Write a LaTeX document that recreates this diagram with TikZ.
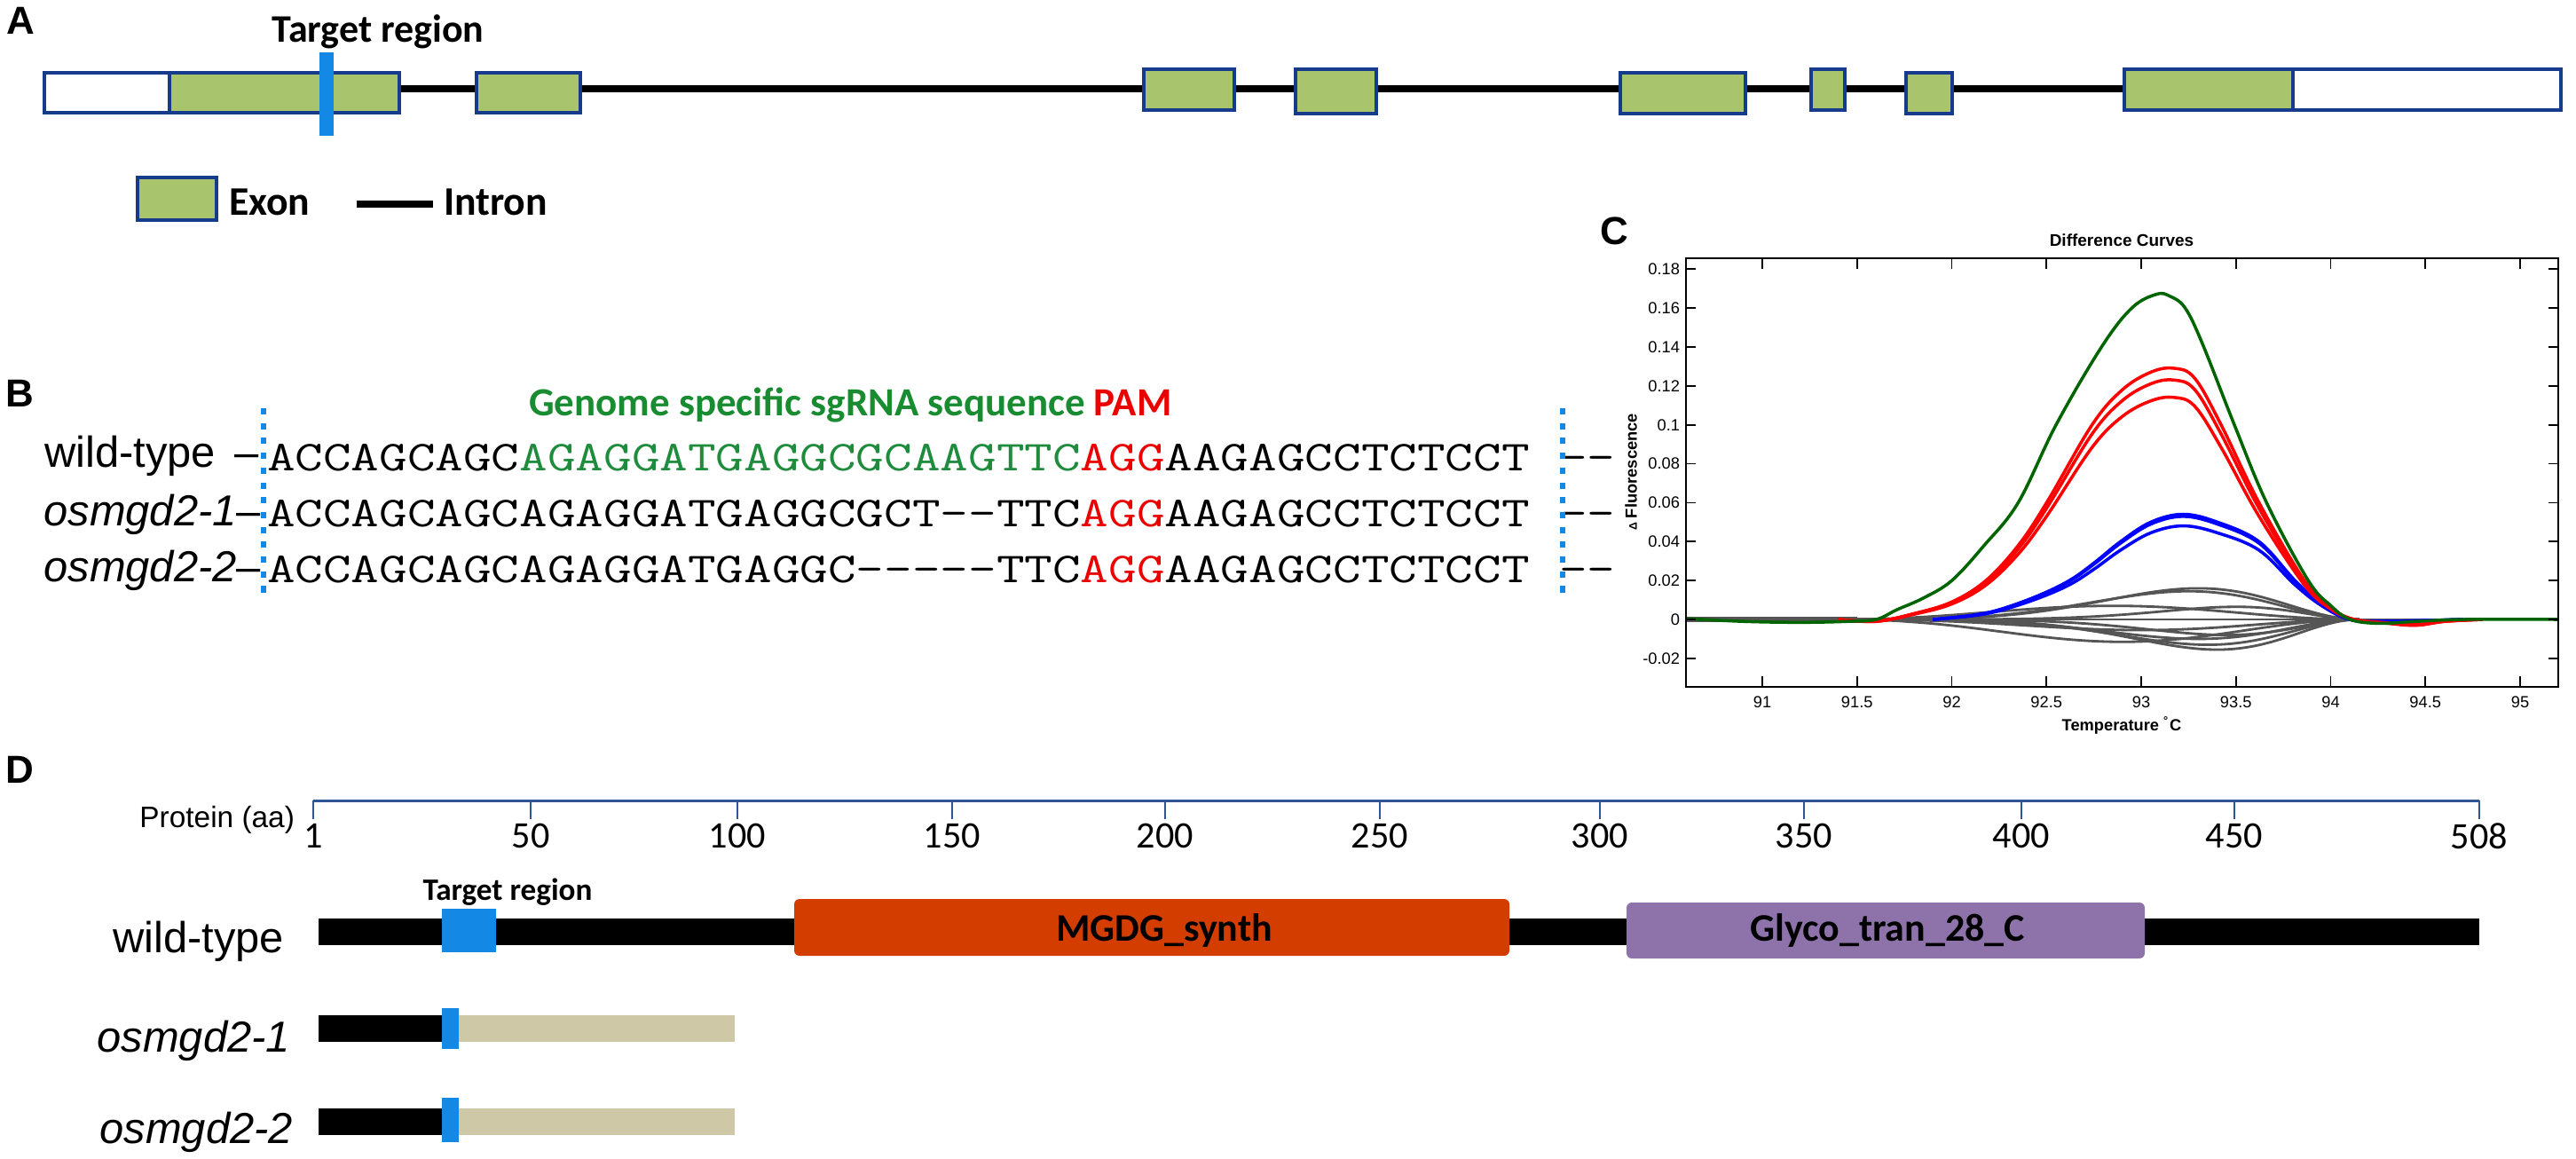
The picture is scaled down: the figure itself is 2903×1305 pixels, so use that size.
\documentclass[tikz,border=0pt]{standalone}
\usepackage{fontspec}
\usepackage{graphicx}
\setmainfont{Liberation Sans}
\newfontfamily\carl{Carlito}
\newfontfamily\arl{Liberation Sans}
\newcommand\fsz[1]{\fontsize{#1}{#1}\selectfont}
\definecolor{exongreen}{RGB}{168,197,110}
\definecolor{exonborder}{RGB}{22,58,140}
\definecolor{tblue}{RGB}{20,136,229}
\definecolor{sggreen}{RGB}{25,140,50}
\definecolor{seqgreen}{RGB}{30,140,60}
\definecolor{pamred}{RGB}{235,0,0}
\definecolor{axisblue}{RGB}{47,85,151}
\definecolor{mgdgcol}{RGB}{211,61,0}
\definecolor{glycocol}{RGB}{142,115,170}
\definecolor{beigecol}{RGB}{206,200,166}
\definecolor{cgreen}{RGB}{0,100,0}
\definecolor{cred}{RGB}{255,0,0}
\definecolor{cblue}{RGB}{0,0,255}
\definecolor{cgray}{RGB}{85,85,85}
\begin{document}
\begin{tikzpicture}[x=0.01cm,y=-0.01cm,
  every node/.style={inner sep=0pt,outer sep=0pt},
  panellabel/.style={anchor=base west,font=\arl\bfseries\fsz{12.5pt}},
  exonbox/.style={draw=exonborder,fill=exongreen,line width=1pt},
  utrbox/.style={draw=exonborder,fill=white,line width=1pt},
  intronline/.style={draw=black,line width=2.3pt},
  carlb/.style={font=\carl\bfseries\fsz{13pt}},
  rowlab/.style={anchor=base east,font=\arl\fsz{13.9pt}},
  seqtext/.style={anchor=base west,font=\ttfamily\fsz{13.66pt}},
  dotline/.style={draw=tblue,line width=1.85pt,dash pattern=on 2pt off 2.75pt},
  plotframe/.style={draw=black,line width=0.5pt},
  ticklab/.style={font=\arl\fsz{5.2pt}},
  plotlab/.style={font=\arl\bfseries\fsz{5.2pt}},
  gcurve/.style={draw=cgray,line width=0.8pt},
  colcurve/.style={line width=1pt},
  domainbox/.style={rounded corners=1.7pt,draw=none},
  dlab/.style={font=\carl\fsz{12pt}},
  domlab/.style={anchor=base,font=\carl\bfseries\fsz{12.5pt}}
]
\fill[white] (0,0) rectangle (2903,1305);
\useasboundingbox (0,0) rectangle (2903,1305);

% ---------------- Panel A ----------------
\node[panellabel] (labA) at (8,38) {A};
\draw[intronline] (450,100) -- (2393,100);
\draw[utrbox] (50,82) rectangle (191,127);
\draw[exonbox] (191,82) rectangle (450,127);
\draw[exonbox] (537,82) rectangle (654,127);
\draw[exonbox] (1289,78) rectangle (1391,124);
\draw[exonbox] (1460,78) rectangle (1551,128);
\draw[exonbox] (1826,82) rectangle (1967,128);
\draw[exonbox] (2041,78) rectangle (2079,124);
\draw[exonbox] (2148,82) rectangle (2200,128);
\draw[exonbox] (2394,78) rectangle (2584,124);
\draw[utrbox] (2584,78) rectangle (2886,124);
\fill[tblue] (360,59) rectangle (376,153);
\node[carlb,font=\carl\bfseries\fsz{12.5pt},anchor=base] (targetA) at (426,47) {Target region};
\draw[exonbox] (155,200) rectangle (244,248);
\node[carlb,anchor=base west] (exonlab) at (258,242) {Exon};
\draw[intronline] (402,230) -- (488,230);
\node[carlb,anchor=base west] (intronlab) at (500,242) {Intron};

% ---------------- Panel B ----------------
\node[panellabel] (labB) at (6,458) {B};
\node[anchor=base west,font=\carl\bfseries\fsz{12.8pt}] (hdr) at (596,468)
  {{\color{sggreen}Genome specific sgRNA sequence} {\color{pamred}PAM}};
\node[rowlab] (wtB) at (292,526) {wild-type \,–};
\node[rowlab] (m1B) at (294,592) {\textit{osmgd2-1}–};
\node[rowlab] (m2B) at (294,655) {\textit{osmgd2-2}–};
\node[seqtext] (seqwt) at (301,530) {\scalebox{1.278}[1]{ACCAGCAGC\textcolor{seqgreen}{AGAGGATGAGGCGCAAGTTC}\textcolor{pamred}{AGG}AAGAGCCTCTCCT}};
\node[seqtext] (seqm1) at (301,593) {\scalebox{1.278}[1]{ACCAGCAGCAGAGGATGAGGCGCT--TTC\textcolor{pamred}{AGG}AAGAGCCTCTCCT}};
\node[seqtext] (seqm2) at (301,656) {\scalebox{1.278}[1]{ACCAGCAGCAGAGGATGAGGC-----TTC\textcolor{pamred}{AGG}AAGAGCCTCTCCT}};
\node[seqtext] (tailwt) at (1757,530) {\scalebox{1.278}[1]{--}};
\node[seqtext] (tailm1) at (1757,593) {\scalebox{1.278}[1]{--}};
\node[seqtext] (tailm2) at (1757,656) {\scalebox{1.278}[1]{--}};
\draw[dotline] (297,460) -- (297,668);
\draw[dotline] (1761,460) -- (1761,668);

% ---------------- Panel C ----------------
\node[panellabel] (labC) at (1803,275) {C};
\node[plotlab,font=\arl\bfseries\fsz{5.4pt}] (ctitle) at (2391,271) {Difference Curves};
\node[plotlab] (xlab) at (2391,817) {Temperature \textsuperscript{°}C};
\node[plotlab,rotate=90] (ylab) at (1838,532) {{\fsz{3.5pt}Δ} Fluorescence};
\begin{scope}
\clip (1900,291) rectangle (2883,774);
\begin{scope}[shift={(1986,698)},x=2.135cm,y=21.93cm]
  % gray curves
  \draw[cgray,line width=1.6pt] (-0.41,0) -- (0.5,0);
  \draw[gcurve] (0.4,0) -- (4.21,0);
  \foreach \A/\c in {0.016/2.3,0.0145/2.25,0.007/1.85,0.0065/2.5,-0.0055/2.0,-0.008/2.45,-0.010/2.3,-0.0115/1.9,-0.013/2.35,-0.0155/2.4}{
    \pgfmathsetmacro\kk{ln(0.5)/ln((\c-0.4)/2.75)}
    \draw[gcurve] plot[domain=0.41:3.15,samples=70,smooth] (\x,{\A*pow(sin(180*pow((\x-0.4)/2.75,\kk)),2)});
  }
  % blue curves
  \foreach \s in {1,0.98,0.89}{
    \draw[colcurve,cblue,yscale=\s] plot[smooth,tension=0.6] coordinates {(0.9,0) (1.1,0.002) (1.25,0.005) (1.45,0.012) (1.62,0.02) (1.75,0.029) (1.89,0.04) (2.05,0.05) (2.22,0.054) (2.4,0.05) (2.62,0.04) (2.81,0.02) (2.95,0.008) (3.1,0) (3.3,-0.001) (3.7,0)};
  }
  % red curves
  \foreach \s in {1,0.953,0.884}{
    \draw[colcurve,cred,yscale=\s] plot[smooth,tension=0.6] coordinates {(0.4,0) (0.6,-0.001) (0.8,0.003) (1.0,0.009) (1.18,0.02) (1.35,0.038) (1.5,0.06) (1.74,0.10) (1.9,0.118) (2.05,0.127) (2.17,0.129) (2.28,0.124) (2.42,0.10) (2.62,0.06) (2.86,0.02) (3.0,0.006) (3.12,0.0) (3.3,-0.002) (3.45,-0.003) (3.6,-0.001) (3.8,0)};
  }
  % green curve
  \draw[colcurve,cgreen] plot[smooth,tension=0.6] coordinates {(-0.41,0.0005) (-0.1,-0.001) (0.2,-0.0015) (0.45,-0.001) (0.6,0.0) (0.71,0.005) (0.85,0.011) (1.0,0.02) (1.17,0.038) (1.35,0.06) (1.55,0.10) (1.79,0.14) (1.95,0.16) (2.08,0.167) (2.15,0.166) (2.23,0.16) (2.32,0.142) (2.49,0.10) (2.66,0.06) (2.88,0.02) (3.0,0.007) (3.1,0.0) (3.25,-0.002) (3.45,-0.001) (3.7,0.0) (4.21,0.0)};
\end{scope}
\end{scope}
\draw[plotframe] (1900,291) rectangle (2883,774);
\foreach \i/\l in {0/91,1/91.5,2/92,3/92.5,4/93,5/93.5,6/94,7/94.5,8/95}{
  \pgfmathsetmacro\xx{1986+\i*106.75}
  \draw[plotframe] (\xx,774) -- (\xx,762);
  \draw[plotframe] (\xx,291) -- (\xx,303);
  \node[ticklab] (xt\i) at (\xx,791) {\l};
}
\foreach \j/\l in {-1/-0.02,0/0,1/0.02,2/0.04,3/0.06,4/0.08,5/0.1,6/0.12,7/0.14,8/0.16,9/0.18}{
  \pgfmathsetmacro\yy{698-\j*43.86}
  \draw[plotframe] (1900,\yy) -- (1911,\yy);
  \draw[plotframe] (2883,\yy) -- (2872,\yy);
  \node[ticklab,anchor=east] (yt\j) at (1893,\yy) {\l};
}

% ---------------- Panel D ----------------
\node[panellabel] (labD) at (6,882) {D};
\draw[axisblue,line width=0.85pt] (353,902) -- (2794,902);
\foreach \p/\l in {353/1,598/50,831/100,1073/150,1313/200,1555/250,1803/300,2033/350,2278/400,2518/450,2794/508}{
  \draw[axisblue,line width=0.55pt] (\p,902) -- (\p,923);
  \node[dlab] (tk\l) at (\p,942) {\l};
}
\node[anchor=base east,font=\arl\fsz{9.5pt}] (protlab) at (332,932) {Protein (aa)};
% wild-type
\fill[black] (359,1035) rectangle (2794,1065);
\fill[tblue] (498,1024) rectangle (559,1073);
\fill[mgdgcol,domainbox] (895,1013) rectangle (1701,1077);
\fill[glycocol,domainbox] (1833,1017) rectangle (2417,1080);
\node[domlab] (mgdg) at (1312,1060) {MGDG\_synth};
\node[domlab] (glyco) at (2127,1060) {Glyco\_tran\_28\_C};
\node[anchor=base,font=\carl\bfseries\fsz{10pt}] (targetD) at (572,1014) {Target region};
% mutants
\fill[black] (359,1144) rectangle (498,1174);
\fill[beigecol] (517,1144) rectangle (828,1174);
\fill[tblue] (498,1136) rectangle (517,1182);
\fill[black] (359,1249) rectangle (498,1279);
\fill[beigecol] (517,1249) rectangle (828,1279);
\fill[tblue] (498,1237) rectangle (517,1287);
\node[rowlab] (wtD) at (320,1073) {wild-type};
\node[rowlab] (m1D) at (327,1185) {\textit{osmgd2-1}};
\node[rowlab] (m2D) at (330,1288) {\textit{osmgd2-2}};
\end{tikzpicture}
\end{document}
